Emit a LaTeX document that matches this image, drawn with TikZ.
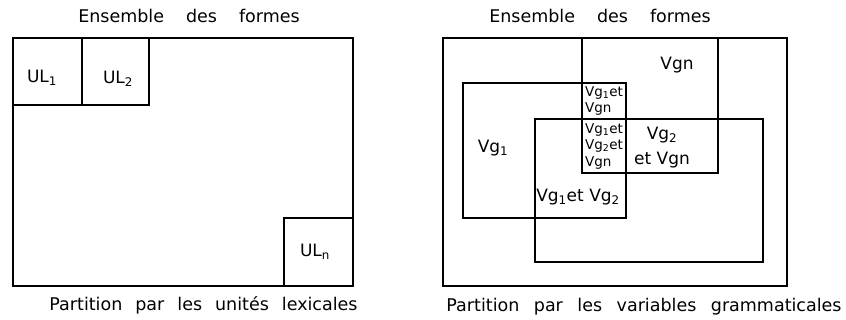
\documentclass[tikz,border=0pt]{standalone}
\usepackage{fontspec}
\setmainfont{DejaVu Sans}
\newcommand\wsp[1]{\spaceskip=#1\relax\xspaceskip=#1\relax}
\tikzset{
  frame/.style={draw, line width=2pt},
  title/.style={inner sep=0pt, anchor=center, font=\fontsize{17.5}{20}\selectfont},
  lbl/.style={inner sep=0pt, anchor=center, font=\fontsize{17}{25}\selectfont, align=center},
  tiny/.style={inner sep=0pt, anchor=center, font=\fontsize{13.5}{16.5}\selectfont, align=left},
}
\begin{document}
\begin{tikzpicture}[x=1pt,y=-1pt]
\useasboundingbox (0,0) rectangle (846,320);
% left panel
\draw[frame] (13,38) rectangle (353,286);
\draw[frame] (13,38) rectangle (82,105);
\draw[frame] (82,38) rectangle (149,105);
\draw[frame] (284,218) rectangle (353,286);
\node[title] (t1) at (189,16) {\wsp{22pt}Ensemble des formes};
\node[title] (b1) at (203.5,305) {\wsp{13pt}Partition par les unités lexicales};
\node[lbl] (ul1) at (42,78) {UL\textsubscript{1}};
\node[lbl] (ul2) at (118,79) {UL\textsubscript{2}};
\node[lbl] (uln) at (315,252) {UL\textsubscript{n}};
% right panel
\draw[frame] (443,38) rectangle (787,286);
\draw[frame] (582,38) rectangle (718,173);
\draw[frame] (463,83) rectangle (626,218);
\draw[frame] (535,119) rectangle (763,262);
\node[title] (t2) at (600,16) {\wsp{22pt}Ensemble des formes};
\node[title] (b2) at (644,307) {\wsp{14.5pt}Partition par les variables grammaticales};
\node[lbl] (vgn) at (677,65) {Vgn};
\node[lbl] (vg1) at (493,148) {Vg\textsubscript{1}};
\node[lbl] (v2n) at (662,148) {Vg\textsubscript{2}\\et Vgn};
\node[lbl] (v12) at (578,197) {Vg\textsubscript{1}et Vg\textsubscript{2}};
\node[tiny] (v1n) at (604,101) {Vg\textsubscript{1}et\\Vgn};
\node[tiny] (v12n) at (604,146) {Vg\textsubscript{1}et\\Vg\textsubscript{2}et\\Vgn};
\end{tikzpicture}
\end{document}
